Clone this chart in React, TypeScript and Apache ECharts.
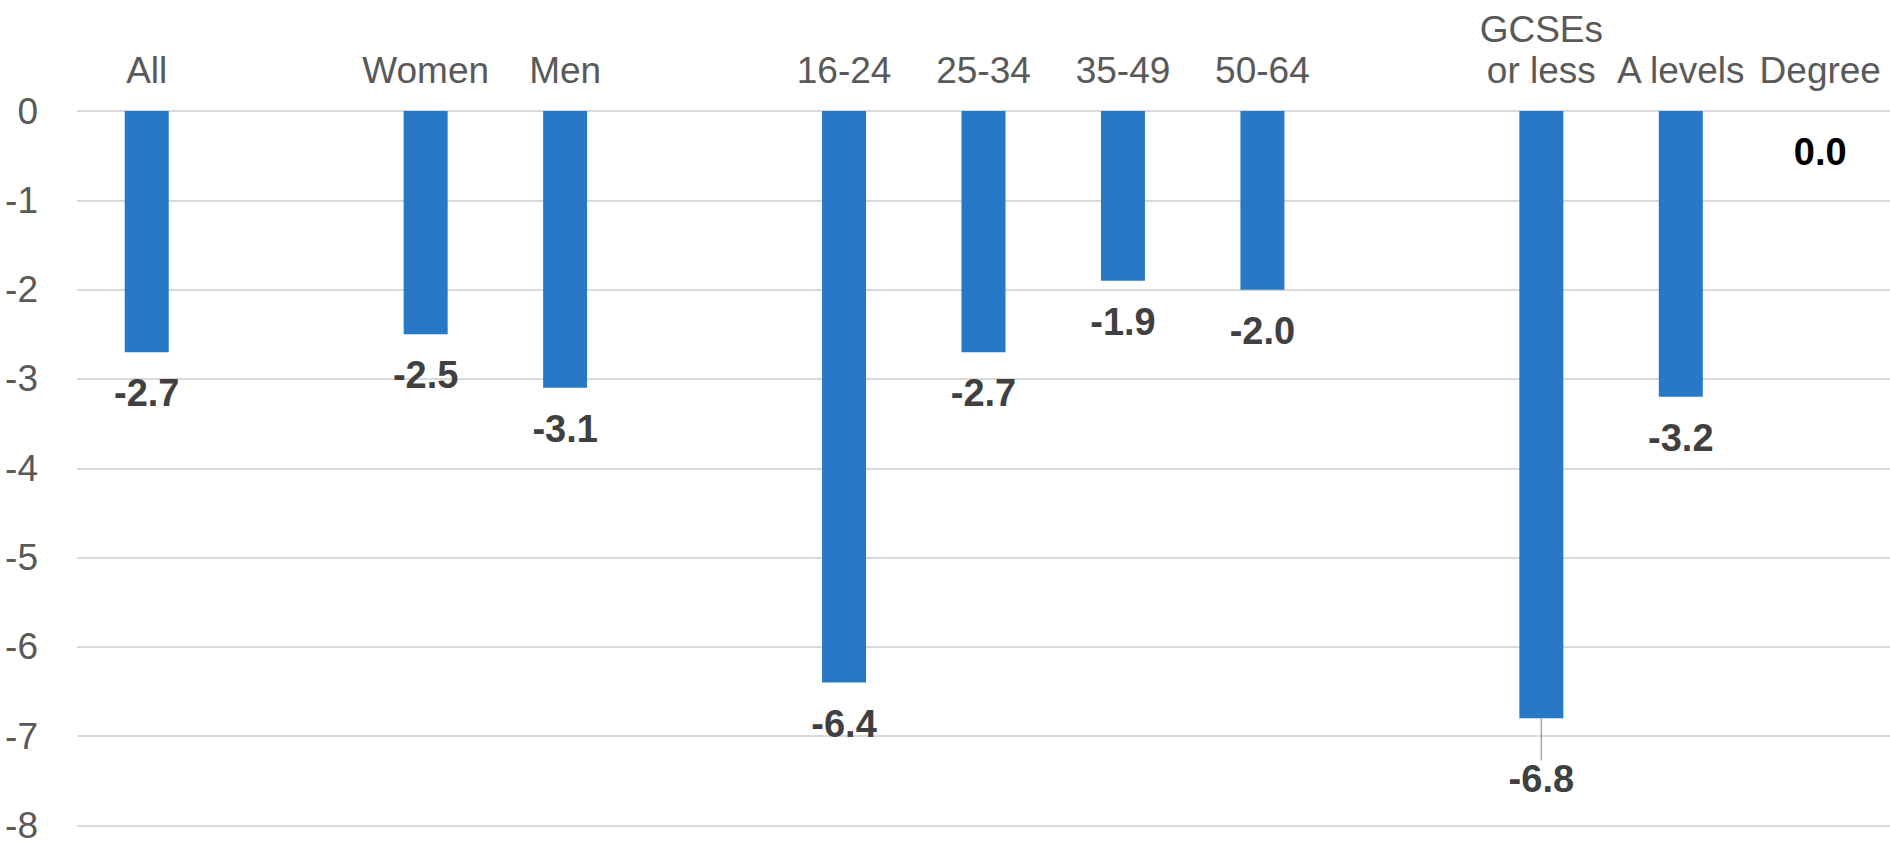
import React, { useEffect, useRef } from "react";
import * as echarts from "echarts";

const categories = ["All", "", "Women", "Men", "", "16-24", "25-34", "35-49", "50-64", "", "GCSEs\nor less", "A levels", "Degree"];
const values: (number | null)[] = [-2.7, null, -2.5, -3.1, null, -6.4, -2.7, -1.9, -2.0, null, -6.8, -3.2, 0.0];
const yTicks = { min: -8, max: 0, interval: 1 };

const FONT = "'Liberation Sans', Arial, sans-serif";

export default function App() {
  const ref = useRef<HTMLDivElement>(null);
  useEffect(() => {
    if (!ref.current) return;
    const chart = echarts.init(ref.current, null, { renderer: "svg" });
    const data = values.map((v, i) => {
      if (v === null) return "-";
      const item: any = { value: v };
      if (categories[i] === "Degree") {
        item.label = { color: "#000000", offset: [4, 9] };
      }
      if (categories[i] === "GCSEs\nor less") {
        item.labelLine = { show: true, lineStyle: { color: "#a6a6a6", width: 1.5 } };
      }
      return item;
    });
    chart.setOption({
      animation: false,
      grid: { left: 77, right: 0, top: 111, bottom: 14 },
      xAxis: {
        type: "category",
        position: "top",
        data: categories,
        axisLine: { show: false },
        axisTick: { show: false },
        axisLabel: {
          interval: 0,
          fontSize: 37,
          lineHeight: 41,
          color: "#595959",
          fontFamily: FONT,
          margin: 20,
        },
      },
      yAxis: {
        type: "value",
        min: yTicks.min,
        max: yTicks.max,
        interval: yTicks.interval,
        axisLine: { show: false },
        axisTick: { show: false },
        axisLabel: { fontSize: 37, color: "#595959", fontFamily: FONT, margin: 39 },
        splitLine: { lineStyle: { color: "#d9d9d9", width: 2 } },
      },
      series: [
        {
          type: "bar",
          data,
          barWidth: 44,
          itemStyle: { color: "#2878c8" },
          label: {
            show: true,
            position: "bottom",
            distance: 22,
            fontSize: 38,
            fontWeight: "bold",
            color: "#404040",
            fontFamily: FONT,
            formatter: (p: any) => Number(p.value).toFixed(1),
          },
          labelLayout: (p: any) => (p.dataIndex === 10 ? { dy: 20 } : {}),
        },
      ],
    });
    return () => chart.dispose();
  }, []);
  return (
    <div
      ref={ref}
      style={{ position: "fixed", left: 0, top: 0, width: 1890, height: 844, background: "#fff" }}
    />
  );
}
